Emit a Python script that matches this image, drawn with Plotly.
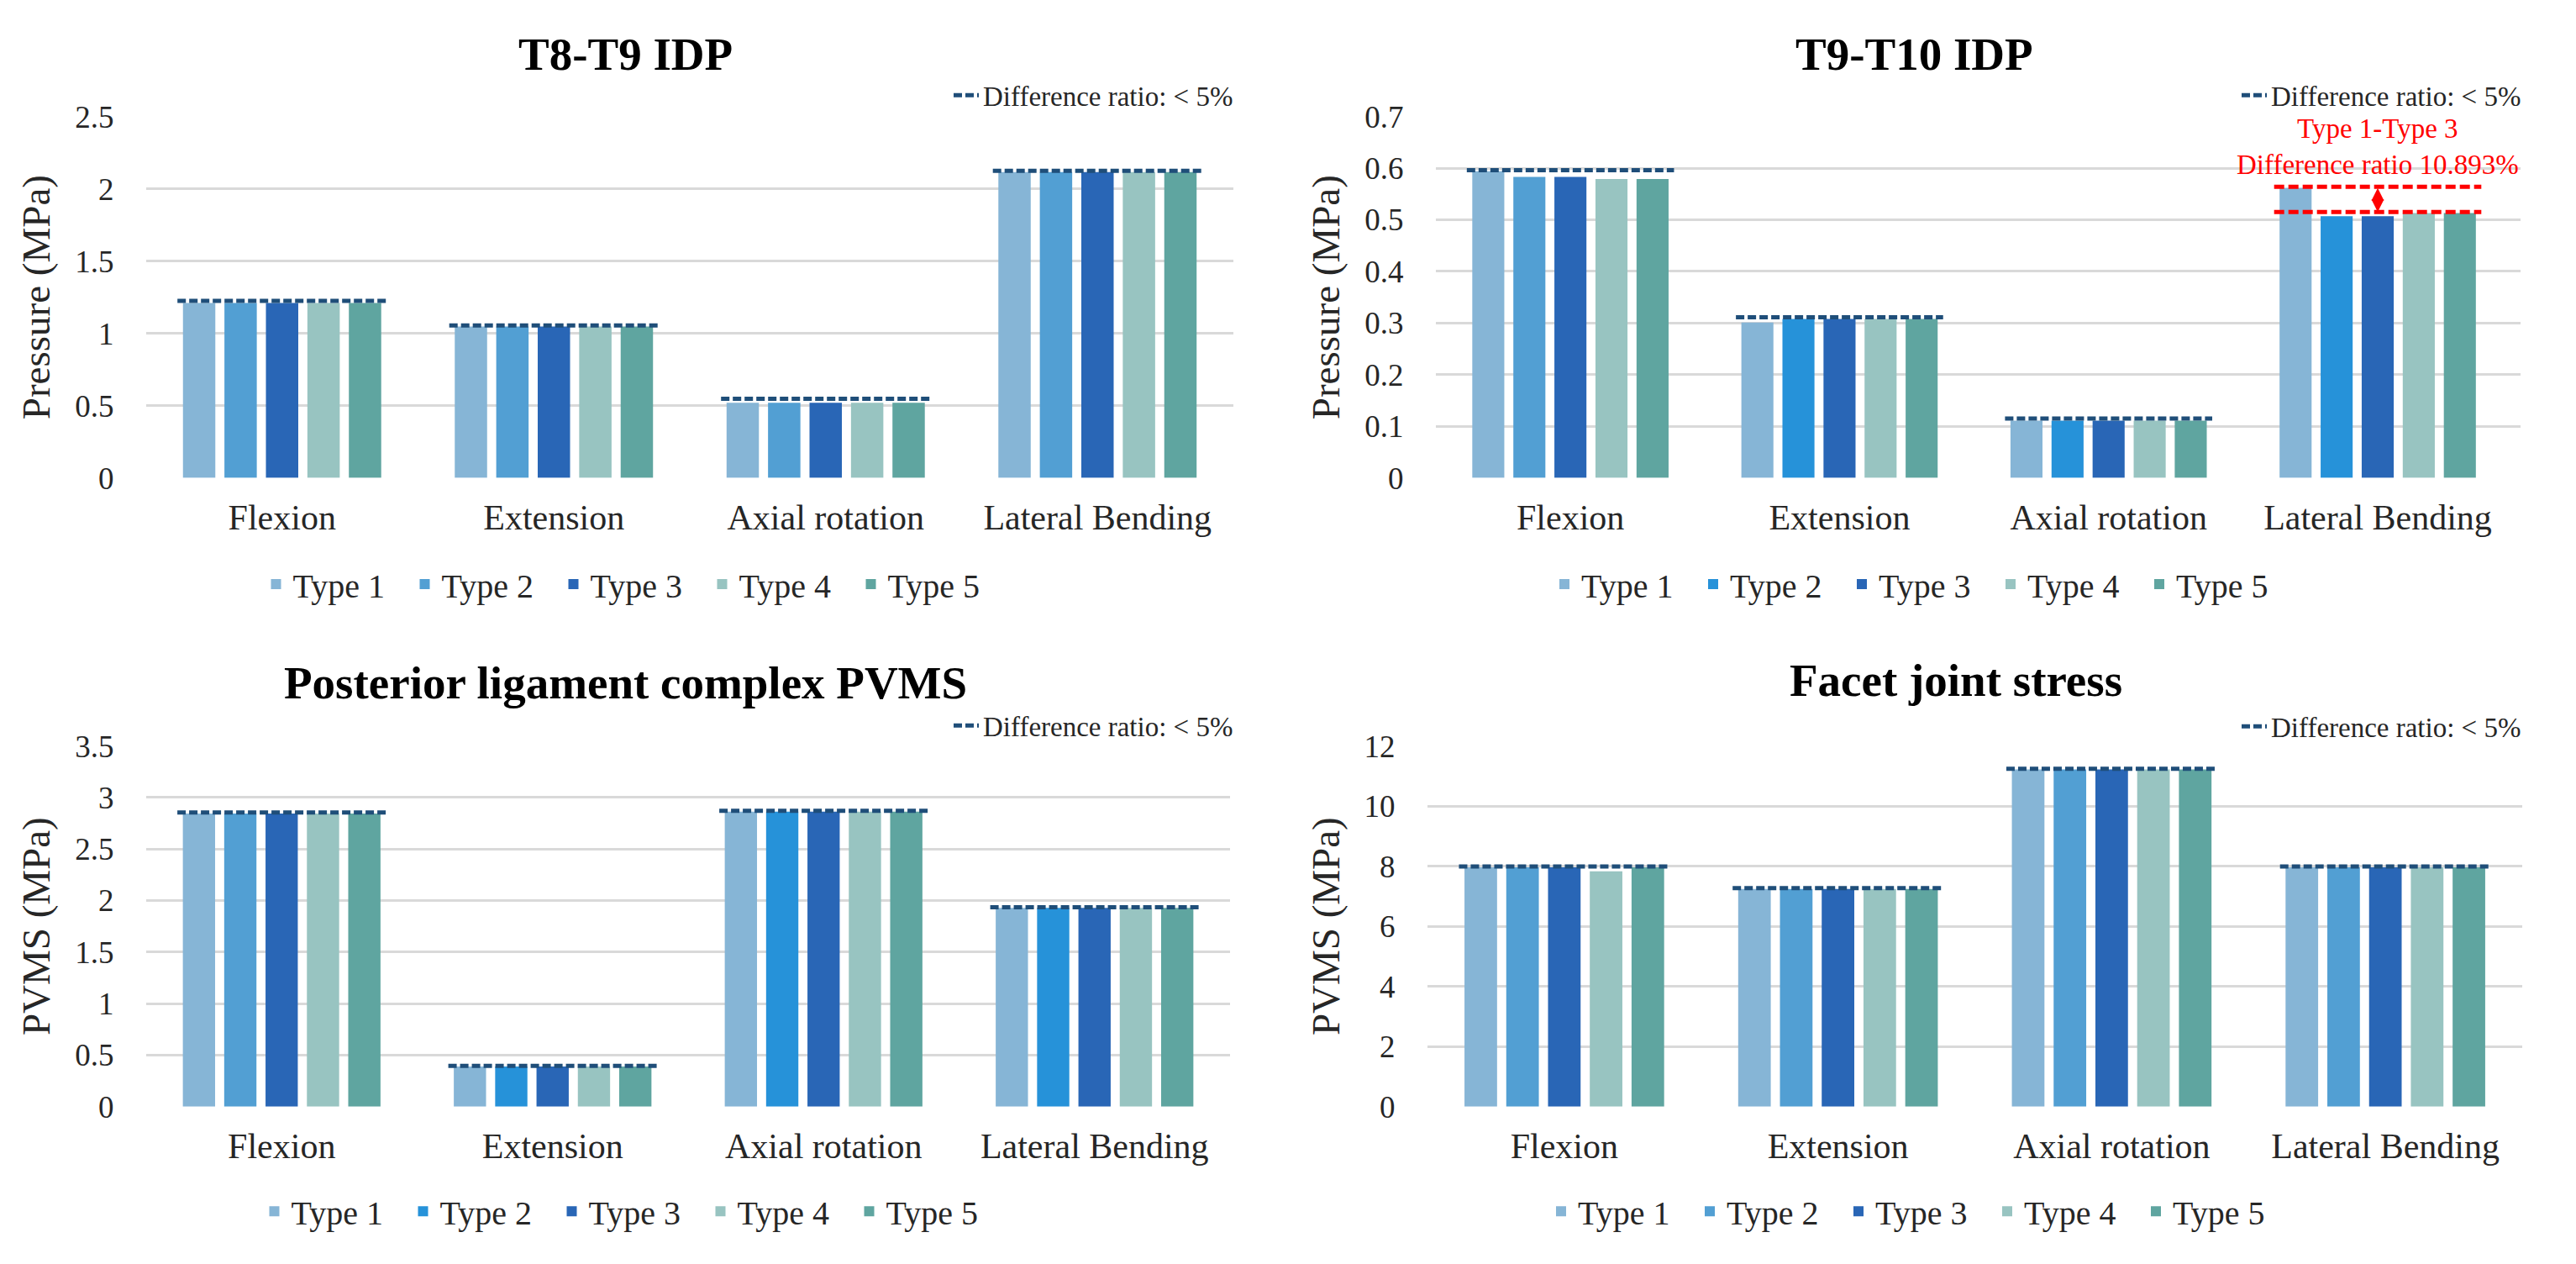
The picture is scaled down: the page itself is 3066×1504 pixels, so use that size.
import plotly.graph_objects as go

# ---------------- data ----------------
categories = ["Flexion", "Extension", "Axial rotation", "Lateral Bending"]
type_names = ["Type 1", "Type 2", "Type 3", "Type 4", "Type 5"]

# T8-T9 IDP (MPa): rows = Type 1..5, columns = categories
t8t9_values = [
    [1.21, 1.047, 0.519, 2.116],
    [1.21, 1.047, 0.519, 2.116],
    [1.21, 1.047, 0.519, 2.116],
    [1.21, 1.047, 0.519, 2.116],
    [1.21, 1.047, 0.519, 2.116],
]
t8t9_ref = [1.225, 1.055, 0.547, 2.125]

# T9-T10 IDP (MPa)
t9t10_values = [
    [0.594, 0.301, 0.111, 0.562],
    [0.583, 0.308, 0.111, 0.507],
    [0.583, 0.308, 0.111, 0.507],
    [0.579, 0.308, 0.111, 0.513],
    [0.579, 0.308, 0.111, 0.513],
]
t9t10_ref = [0.596, 0.311, 0.115, None]
t9t10_red_levels = [0.564, 0.515]
t9t10_red_text = "Type 1-Type 3<br>Difference ratio 10.893%"

# Posterior ligament complex PVMS (MPa)
plc_values = [
    [2.845, 0.388, 2.864, 1.928],
    [2.845, 0.388, 2.864, 1.928],
    [2.845, 0.388, 2.864, 1.928],
    [2.845, 0.388, 2.864, 1.928],
    [2.845, 0.388, 2.864, 1.928],
]
plc_ref = [2.855, 0.395, 2.872, 1.935]

# Facet joint stress PVMS (MPa)
facet_values = [
    [7.96, 7.24, 11.22, 7.96],
    [7.96, 7.24, 11.22, 7.96],
    [7.96, 7.24, 11.22, 7.96],
    [7.83, 7.24, 11.22, 7.96],
    [7.96, 7.24, 11.22, 7.96],
]
facet_ref = [7.99, 7.27, 11.24, 7.99]

panel_titles = ["T8-T9 IDP", "T9-T10 IDP", "Posterior ligament complex PVMS", "Facet joint stress"]
y_titles = ["Pressure (MPa)", "Pressure (MPa)", "PVMS (MPa)", "PVMS (MPa)"]
y_ranges = [2.5, 0.7, 3.5, 12]
y_dticks = [0.5, 0.1, 0.5, 2]
ref_label = "Difference ratio: < 5%"

# ---------------- style ----------------
W, H = 3066, 1504
FONT = "Liberation Serif, Times New Roman, serif"
TXT = "#262626"
c_type = ["#86B5D6", "#529FD3", "#2966B6", "#98C4C1", "#5FA5A0"]
c_type2_bright = "#2692D9"
type2_bright = [
    [False, False, False, False],
    [False, True, True, True],
    [False, True, True, True],
    [False, False, False, False],
]
legend_type2 = [c_type[1], c_type2_bright, c_type2_bright, c_type[1]]
NAVY = "#1F4E79"
RED = "#FF0000"
GRID = "#D9D9D9"

def px_x(v):
    return v / W

def px_y(v):
    return 1 - v / H

# plot-area pixel boxes (left, right, top, bottom)
boxes = [
    (174, 1468, 122, 564),
    (1709, 3000, 122, 564),
    (174, 1464, 892, 1333),
    (1699, 3002, 892, 1333),
]
title_pos = [(744, 46), (2278, 46), (744, 815), (2328, 812)]
ref_legend_pos = [(1130, 96), (2663, 96), (1130, 867), (2663, 868)]
type_legend_y = [694, 694, 1461, 1461]

panels = [
    (t8t9_values, t8t9_ref),
    (t9t10_values, t9t10_ref),
    (plc_values, plc_ref),
    (facet_values, facet_ref),
]

fig = go.Figure()
shapes = []
annotations = []
layout = {}

HALF = 0.385

for p, (vals, ref) in enumerate(panels):
    sfx = "" if p == 0 else str(p + 1)
    xa, ya = "x" + sfx, "y" + sfx
    leg_types = "legend" + ("" if p == 0 else str(p + 1))
    leg_ref = "legend" + str(p + 5)
    for t, name in enumerate(type_names):
        colors = []
        for c in range(len(categories)):
            if t == 1 and type2_bright[p][c]:
                colors.append(c_type2_bright)
            else:
                colors.append(c_type[t])
        fig.add_trace(go.Bar(
            x=categories, y=vals[t], name=name, xaxis=xa, yaxis=ya,
            marker=dict(color=colors, line=dict(width=0)),
            showlegend=False, hoverinfo="x+y+name",
        ))
    # legend entries for types
    for t, name in enumerate(type_names):
        col = legend_type2[p] if t == 1 else c_type[t]
        fig.add_trace(go.Scatter(
            x=[None], y=[None], mode="markers", name=name, xaxis=xa, yaxis=ya,
            marker=dict(symbol="square", size=20, color=col),
            legend=leg_types, showlegend=True,
        ))
    # legend entry for the reference dashed line
    fig.add_trace(go.Scatter(
        x=[None], y=[None], mode="lines", name=ref_label, xaxis=xa, yaxis=ya,
        line=dict(color=NAVY, width=5, dash="10px,4px"),
        legend=leg_ref, showlegend=True,
    ))
    # dashed reference lines
    for c, lvl in enumerate(ref):
        if lvl is None:
            continue
        shapes.append(dict(type="line", xref=xa, yref=ya,
                           x0=c - HALF, x1=c + HALF, y0=lvl, y1=lvl,
                           line=dict(color=NAVY, width=5, dash="10px,4px")))

    l, r, t_, b = boxes[p]
    layout["xaxis" + sfx] = dict(
        domain=[px_x(l), px_x(r)], anchor=ya, type="category",
        categoryorder="array", categoryarray=categories,
        showline=False, showgrid=False, zeroline=False,
        ticks="outside", ticklen=10, tickcolor="rgba(0,0,0,0)",
        tickfont=dict(family=FONT, size=42, color=TXT),
    )
    layout["yaxis" + sfx] = dict(
        domain=[px_y(b), px_y(t_)], anchor=xa,
        range=[0, y_ranges[p]], dtick=y_dticks[p], tick0=0,
        showline=False, zeroline=False, showgrid=True,
        gridcolor=GRID, gridwidth=3,
        ticks="outside", ticklen=30, tickcolor="rgba(0,0,0,0)",
        tickfont=dict(family=FONT, size=37, color=TXT),
        title=dict(text=y_titles[p], font=dict(family=FONT, size=47, color=TXT), standoff=14),
    )
    tx, ty = title_pos[p]
    annotations.append(dict(
        text="<b>" + panel_titles[p] + "</b>", xref="paper", yref="paper",
        x=px_x(tx), y=px_y(ty), xanchor="center", yanchor="middle",
        showarrow=False, font=dict(family=FONT, size=55, color="#000000"),
    ))
    lx, ly = ref_legend_pos[p]
    layout[leg_ref] = dict(
        x=px_x(lx), y=px_y(ly), xanchor="left", yanchor="middle",
        orientation="h", bgcolor="rgba(0,0,0,0)",
        font=dict(family=FONT, size=33, color=TXT),
    )
    layout[leg_types] = dict(
        x=px_x((l + r) / 2 - 70), y=px_y(type_legend_y[p]), xanchor="center", yanchor="middle",
        orientation="h", bgcolor="rgba(0,0,0,0)",
        font=dict(family=FONT, size=40, color=TXT),
        entrywidth=132, entrywidthmode="pixels", itemsizing="constant",
    )

# red difference annotation in T9-T10 lateral bending
for lvl in t9t10_red_levels:
    shapes.append(dict(type="line", xref="x2", yref="y2",
                       x0=3 - HALF, x1=3 + HALF, y0=lvl, y1=lvl,
                       line=dict(color=RED, width=5, dash="12px,5px")))
annotations.append(dict(
    x=categories[3], y=t9t10_red_levels[1], ax=categories[3], ay=t9t10_red_levels[0],
    xref="x2", yref="y2", axref="x2", ayref="y2", text="",
    showarrow=True, arrowhead=2, startarrowhead=2, arrowside="end+start",
    arrowcolor=RED, arrowwidth=3, arrowsize=1, startarrowsize=1,
))
annotations.append(dict(
    x=categories[3], y=t9t10_red_levels[0], xref="x2", yref="y2",
    text=t9t10_red_text, showarrow=False, xanchor="center", yanchor="bottom", yshift=6,
    font=dict(family=FONT, size=33, color=RED),
))

fig.update_layout(
    width=W, height=H,
    margin=dict(l=0, r=0, t=0, b=0),
    paper_bgcolor="white", plot_bgcolor="white",
    barmode="group", bargap=0.237, bargroupgap=0.22,
    shapes=shapes, annotations=annotations,
    font=dict(family=FONT, color=TXT),
    **layout,
)

fig.write_html("out.html", config={"displayModeBar": False},
               post_script="document.body.style.margin='0';")
